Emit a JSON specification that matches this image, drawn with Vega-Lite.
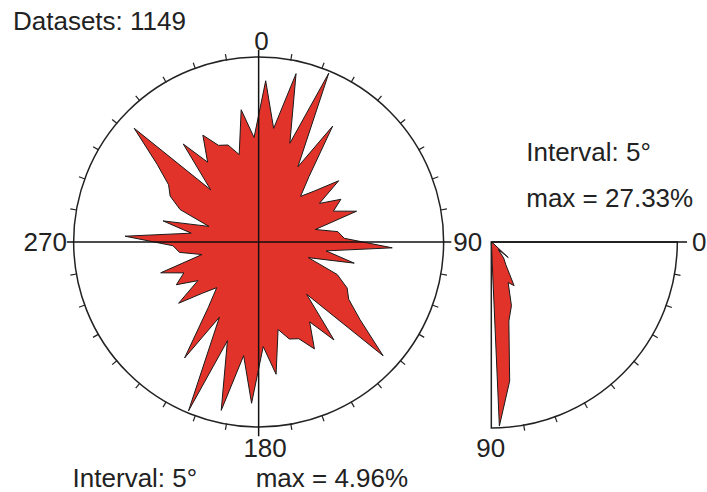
{
  "$schema": "https://vega.github.io/schema/vega-lite/v6.json",
  "width": 707,
  "height": 492,
  "autosize": {"type": "fit", "contains": "padding"},
  "padding": 0,
  "background": "white",
  "config": {
    "view": {"stroke": null},
    "text": {"font": "Liberation Sans", "fontSize": 26, "color": "#222222"}
  },
  "datasets": {
    "one": [{"k": 1}],
    "rose": [
      {"a": 2.5, "p": 4.38}, {"a": 7.5, "p": 3.11}, {"a": 12.5, "p": 4.68}, {"a": 17.5, "p": 2.81},
      {"a": 22.5, "p": 4.96}, {"a": 27.5, "p": 2.30}, {"a": 32.5, "p": 3.73}, {"a": 37.5, "p": 2.24},
      {"a": 42.5, "p": 1.68}, {"a": 47.5, "p": 2.05}, {"a": 52.5, "p": 2.73}, {"a": 57.5, "p": 1.95},
      {"a": 62.5, "p": 2.51}, {"a": 67.5, "p": 2.19}, {"a": 72.5, "p": 2.78}, {"a": 77.5, "p": 1.57},
      {"a": 82.5, "p": 2.16}, {"a": 87.5, "p": 2.32}, {"a": 92.5, "p": 3.62}, {"a": 97.5, "p": 1.84},
      {"a": 102.5, "p": 2.65}, {"a": 107.5, "p": 1.41}, {"a": 112.5, "p": 2.30}, {"a": 117.5, "p": 2.70},
      {"a": 122.5, "p": 2.89}, {"a": 127.5, "p": 3.46}, {"a": 132.5, "p": 4.57}, {"a": 137.5, "p": 1.92},
      {"a": 142.5, "p": 3.35}, {"a": 147.5, "p": 2.57}, {"a": 152.5, "p": 3.27}, {"a": 157.5, "p": 2.84},
      {"a": 162.5, "p": 2.76}, {"a": 167.5, "p": 2.43}, {"a": 172.5, "p": 3.62}, {"a": 177.5, "p": 2.84},
      {"a": 182.5, "p": 4.38}, {"a": 187.5, "p": 3.11}, {"a": 192.5, "p": 4.68}, {"a": 197.5, "p": 2.81},
      {"a": 202.5, "p": 4.96}, {"a": 207.5, "p": 2.30}, {"a": 212.5, "p": 3.73}, {"a": 217.5, "p": 2.24},
      {"a": 222.5, "p": 1.68}, {"a": 227.5, "p": 2.05}, {"a": 232.5, "p": 2.73}, {"a": 237.5, "p": 1.95},
      {"a": 242.5, "p": 2.51}, {"a": 247.5, "p": 2.19}, {"a": 252.5, "p": 2.78}, {"a": 257.5, "p": 1.57},
      {"a": 262.5, "p": 2.16}, {"a": 267.5, "p": 2.32}, {"a": 272.5, "p": 3.62}, {"a": 277.5, "p": 1.84},
      {"a": 282.5, "p": 2.65}, {"a": 287.5, "p": 1.41}, {"a": 292.5, "p": 2.30}, {"a": 297.5, "p": 2.70},
      {"a": 302.5, "p": 2.89}, {"a": 307.5, "p": 3.46}, {"a": 312.5, "p": 4.57}, {"a": 317.5, "p": 1.92},
      {"a": 322.5, "p": 3.35}, {"a": 327.5, "p": 2.57}, {"a": 332.5, "p": 3.27}, {"a": 337.5, "p": 2.84},
      {"a": 342.5, "p": 2.76}, {"a": 347.5, "p": 2.43}, {"a": 352.5, "p": 3.62}, {"a": 357.5, "p": 2.84}
    ],
    "dip": [
      {"a": 2.5, "p": 0}, {"a": 7.5, "p": 0}, {"a": 12.5, "p": 0}, {"a": 17.5, "p": 0},
      {"a": 22.5, "p": 0}, {"a": 27.5, "p": 0}, {"a": 32.5, "p": 0}, {"a": 37.5, "p": 0.5},
      {"a": 42.5, "p": 3.4}, {"a": 47.5, "p": 1.5}, {"a": 52.5, "p": 3.0}, {"a": 57.5, "p": 4.0},
      {"a": 62.5, "p": 7.3}, {"a": 67.5, "p": 6.5}, {"a": 72.5, "p": 9.9}, {"a": 77.5, "p": 12.0},
      {"a": 82.5, "p": 20.8}, {"a": 87.5, "p": 27.33}
    ],
    "ticks": [
      {"a": 10}, {"a": 20}, {"a": 30}, {"a": 40}, {"a": 50}, {"a": 60}, {"a": 70}, {"a": 80},
      {"a": 100}, {"a": 110}, {"a": 120}, {"a": 130}, {"a": 140}, {"a": 150}, {"a": 160}, {"a": 170},
      {"a": 190}, {"a": 200}, {"a": 210}, {"a": 220}, {"a": 230}, {"a": 240}, {"a": 250}, {"a": 260},
      {"a": 280}, {"a": 290}, {"a": 300}, {"a": 310}, {"a": 320}, {"a": 330}, {"a": 340}, {"a": 350}
    ],
    "dipticks": [
      {"a": 10}, {"a": 20}, {"a": 30}, {"a": 40}, {"a": 50}, {"a": 60}, {"a": 70}, {"a": 80}
    ]
  },
  "layer": [
    {
      "data": {"name": "rose"},
      "transform": [
        {"calculate": "datum.p / 5", "as": "r"},
        {"calculate": "datum.r * sin(datum.a * PI / 180)", "as": "x"},
        {"calculate": "datum.r * cos(datum.a * PI / 180)", "as": "y"}
      ],
      "mark": {"type": "line", "interpolate": "linear-closed", "fill": "#e2332b", "stroke": "#1a1a1a", "strokeWidth": 1},
      "encoding": {
        "x": {"field": "x", "type": "quantitative", "scale": {"domain": [-1.4, 2.4216], "nice": false, "zero": false}, "axis": null},
        "y": {"field": "y", "type": "quantitative", "scale": {"domain": [-1.3459, 1.3135], "nice": false, "zero": false}, "axis": null},
        "order": {"field": "a", "type": "quantitative"}
      }
    },
    {
      "data": {"name": "dip"},
      "transform": [
        {"calculate": "datum.p / 27.33", "as": "r"},
        {"calculate": "1.2595 + datum.r * cos(datum.a * PI / 180)", "as": "x"},
        {"calculate": "-datum.r * sin(datum.a * PI / 180)", "as": "y"}
      ],
      "mark": {"type": "line", "interpolate": "linear-closed", "fill": "#e2332b", "stroke": "#1a1a1a", "strokeWidth": 1},
      "encoding": {
        "x": {"field": "x", "type": "quantitative", "scale": {"domain": [-1.4, 2.4216], "nice": false, "zero": false}, "axis": null},
        "y": {"field": "y", "type": "quantitative", "scale": {"domain": [-1.3459, 1.3135], "nice": false, "zero": false}, "axis": null},
        "order": {"field": "a", "type": "quantitative"}
      }
    },
    {
      "data": {"name": "one"},
      "mark": {"type": "arc", "theta": 0, "theta2": 6.2832, "radius": 185, "radius2": 0, "fill": null, "filled": false, "stroke": "#222222", "strokeWidth": 1.5},
      "encoding": {
        "x": {"datum": 0, "type": "quantitative", "scale": {"domain": [-1.4, 2.4216], "nice": false, "zero": false}, "axis": null},
        "y": {"datum": 0, "type": "quantitative", "scale": {"domain": [-1.3459, 1.3135], "nice": false, "zero": false}, "axis": null}
      }
    },
    {
      "data": {"name": "one"},
      "mark": {"type": "arc", "theta": 1.5708, "theta2": 3.1416, "radius": 186, "radius2": 0, "fill": null, "filled": false, "stroke": "#222222", "strokeWidth": 1.5},
      "encoding": {
        "x": {"datum": 1.2595, "type": "quantitative", "scale": {"domain": [-1.4, 2.4216], "nice": false, "zero": false}, "axis": null},
        "y": {"datum": 0, "type": "quantitative", "scale": {"domain": [-1.3459, 1.3135], "nice": false, "zero": false}, "axis": null}
      }
    },
    {
      "data": {"name": "ticks"},
      "transform": [
        {"calculate": "sin(datum.a * PI / 180)", "as": "x"},
        {"calculate": "cos(datum.a * PI / 180)", "as": "y"},
        {"calculate": "1.035 * sin(datum.a * PI / 180)", "as": "x2"},
        {"calculate": "1.035 * cos(datum.a * PI / 180)", "as": "y2"}
      ],
      "mark": {"type": "rule", "stroke": "#222222", "strokeWidth": 1.2},
      "encoding": {
        "x": {"field": "x", "type": "quantitative", "scale": {"domain": [-1.4, 2.4216], "nice": false, "zero": false}, "axis": null},
        "y": {"field": "y", "type": "quantitative", "scale": {"domain": [-1.3459, 1.3135], "nice": false, "zero": false}, "axis": null},
        "x2": {"field": "x2"},
        "y2": {"field": "y2"}
      }
    },
    {
      "data": {"name": "dipticks"},
      "transform": [
        {"calculate": "1.2595 + 1.005 * cos(datum.a * PI / 180)", "as": "x"},
        {"calculate": "-1.005 * sin(datum.a * PI / 180)", "as": "y"},
        {"calculate": "1.2595 + 1.04 * cos(datum.a * PI / 180)", "as": "x2"},
        {"calculate": "-1.04 * sin(datum.a * PI / 180)", "as": "y2"}
      ],
      "mark": {"type": "rule", "stroke": "#222222", "strokeWidth": 1.2},
      "encoding": {
        "x": {"field": "x", "type": "quantitative", "scale": {"domain": [-1.4, 2.4216], "nice": false, "zero": false}, "axis": null},
        "y": {"field": "y", "type": "quantitative", "scale": {"domain": [-1.3459, 1.3135], "nice": false, "zero": false}, "axis": null},
        "x2": {"field": "x2"},
        "y2": {"field": "y2"}
      }
    },
    {
      "data": {"name": "one"},
      "mark": {"type": "rule", "stroke": "#111111", "strokeWidth": 1.5},
      "encoding": {
        "x": {"datum": -1.038, "type": "quantitative", "scale": {"domain": [-1.4, 2.4216], "nice": false, "zero": false}, "axis": null},
        "x2": {"datum": 1.043},
        "y": {"datum": 0, "type": "quantitative", "scale": {"domain": [-1.3459, 1.3135], "nice": false, "zero": false}, "axis": null}
      }
    },
    {
      "data": {"name": "one"},
      "mark": {"type": "rule", "stroke": "#111111", "strokeWidth": 1.5},
      "encoding": {
        "x": {"datum": 0, "type": "quantitative", "scale": {"domain": [-1.4, 2.4216], "nice": false, "zero": false}, "axis": null},
        "y": {"datum": 1.043, "type": "quantitative", "scale": {"domain": [-1.3459, 1.3135], "nice": false, "zero": false}, "axis": null},
        "y2": {"datum": -1.054}
      }
    },
    {
      "data": {"name": "one"},
      "mark": {"type": "rule", "stroke": "#111111", "strokeWidth": 1.5},
      "encoding": {
        "x": {"datum": 1.2595, "type": "quantitative", "scale": {"domain": [-1.4, 2.4216], "nice": false, "zero": false}, "axis": null},
        "x2": {"datum": 2.319},
        "y": {"datum": 0, "type": "quantitative", "scale": {"domain": [-1.3459, 1.3135], "nice": false, "zero": false}, "axis": null}
      }
    },
    {
      "data": {"name": "one"},
      "mark": {"type": "text", "text": "Datasets: 1149", "align": "left", "baseline": "alphabetic"},
      "encoding": {
        "x": {"datum": -1.3297, "type": "quantitative", "scale": {"domain": [-1.4, 2.4216], "nice": false, "zero": false}, "axis": null},
        "y": {"datum": 1.1514, "type": "quantitative", "scale": {"domain": [-1.3459, 1.3135], "nice": false, "zero": false}, "axis": null}
      }
    },
    {
      "data": {"name": "one"},
      "mark": {"type": "text", "text": "0", "align": "center", "baseline": "alphabetic"},
      "encoding": {
        "x": {"datum": 0.015, "type": "quantitative", "scale": {"domain": [-1.4, 2.4216], "nice": false, "zero": false}, "axis": null},
        "y": {"datum": 1.0432, "type": "quantitative", "scale": {"domain": [-1.3459, 1.3135], "nice": false, "zero": false}, "axis": null}
      }
    },
    {
      "data": {"name": "one"},
      "mark": {"type": "text", "text": "180", "align": "center", "baseline": "alphabetic"},
      "encoding": {
        "x": {"datum": 0.035, "type": "quantitative", "scale": {"domain": [-1.4, 2.4216], "nice": false, "zero": false}, "axis": null},
        "y": {"datum": -1.1676, "type": "quantitative", "scale": {"domain": [-1.3459, 1.3135], "nice": false, "zero": false}, "axis": null}
      }
    },
    {
      "data": {"name": "one"},
      "mark": {"type": "text", "text": "270", "align": "right", "baseline": "alphabetic"},
      "encoding": {
        "x": {"datum": -1.0378, "type": "quantitative", "scale": {"domain": [-1.4, 2.4216], "nice": false, "zero": false}, "axis": null},
        "y": {"datum": -0.0486, "type": "quantitative", "scale": {"domain": [-1.3459, 1.3135], "nice": false, "zero": false}, "axis": null}
      }
    },
    {
      "data": {"name": "one"},
      "mark": {"type": "text", "text": "90", "align": "left", "baseline": "alphabetic"},
      "encoding": {
        "x": {"datum": 1.0541, "type": "quantitative", "scale": {"domain": [-1.4, 2.4216], "nice": false, "zero": false}, "axis": null},
        "y": {"datum": -0.0486, "type": "quantitative", "scale": {"domain": [-1.3459, 1.3135], "nice": false, "zero": false}, "axis": null}
      }
    },
    {
      "data": {"name": "one"},
      "mark": {"type": "text", "text": "0", "align": "left", "baseline": "alphabetic"},
      "encoding": {
        "x": {"datum": 2.346, "type": "quantitative", "scale": {"domain": [-1.4, 2.4216], "nice": false, "zero": false}, "axis": null},
        "y": {"datum": -0.0486, "type": "quantitative", "scale": {"domain": [-1.3459, 1.3135], "nice": false, "zero": false}, "axis": null}
      }
    },
    {
      "data": {"name": "one"},
      "mark": {"type": "text", "text": "90", "align": "center", "baseline": "alphabetic"},
      "encoding": {
        "x": {"datum": 1.2568, "type": "quantitative", "scale": {"domain": [-1.4, 2.4216], "nice": false, "zero": false}, "axis": null},
        "y": {"datum": -1.1676, "type": "quantitative", "scale": {"domain": [-1.3459, 1.3135], "nice": false, "zero": false}, "axis": null}
      }
    },
    {
      "data": {"name": "one"},
      "mark": {"type": "text", "text": "Interval: 5°", "align": "left", "baseline": "alphabetic"},
      "encoding": {
        "x": {"datum": 1.4486, "type": "quantitative", "scale": {"domain": [-1.4, 2.4216], "nice": false, "zero": false}, "axis": null},
        "y": {"datum": 0.4378, "type": "quantitative", "scale": {"domain": [-1.3459, 1.3135], "nice": false, "zero": false}, "axis": null}
      }
    },
    {
      "data": {"name": "one"},
      "mark": {"type": "text", "text": "max = 27.33%", "align": "left", "baseline": "alphabetic"},
      "encoding": {
        "x": {"datum": 1.4486, "type": "quantitative", "scale": {"domain": [-1.4, 2.4216], "nice": false, "zero": false}, "axis": null},
        "y": {"datum": 0.1892, "type": "quantitative", "scale": {"domain": [-1.3459, 1.3135], "nice": false, "zero": false}, "axis": null}
      }
    },
    {
      "data": {"name": "one"},
      "mark": {"type": "text", "text": "Interval: 5°", "align": "left", "baseline": "alphabetic"},
      "encoding": {
        "x": {"datum": -1.007, "type": "quantitative", "scale": {"domain": [-1.4, 2.4216], "nice": false, "zero": false}, "axis": null},
        "y": {"datum": -1.327, "type": "quantitative", "scale": {"domain": [-1.3459, 1.3135], "nice": false, "zero": false}, "axis": null}
      }
    },
    {
      "data": {"name": "one"},
      "mark": {"type": "text", "text": "max = 4.96%", "align": "left", "baseline": "alphabetic"},
      "encoding": {
        "x": {"datum": -0.0162, "type": "quantitative", "scale": {"domain": [-1.4, 2.4216], "nice": false, "zero": false}, "axis": null},
        "y": {"datum": -1.327, "type": "quantitative", "scale": {"domain": [-1.3459, 1.3135], "nice": false, "zero": false}, "axis": null}
      }
    }
  ]
}
